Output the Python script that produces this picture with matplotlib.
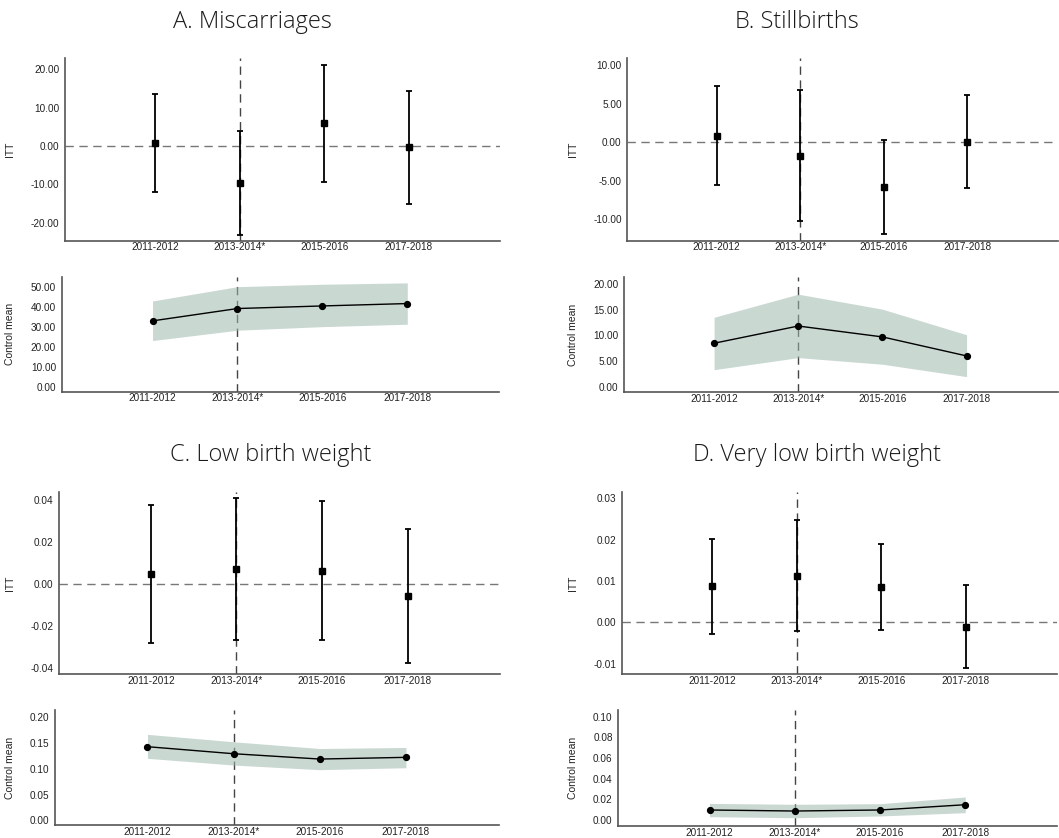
import numpy as np
import matplotlib.pyplot as plt
from matplotlib.ticker import FuncFormatter
from matplotlib.transforms import blended_transform_factory

plt.rcParams['font.family'] = ['Liberation Sans', 'DejaVu Sans']
plt.rcParams['axes.unicode_minus'] = False

periods = ['2011-2012', '2013-2014*', '2015-2016', '2017-2018']
titles = ['A. Miscarriages', 'B. Stillbirths', 'C. Low birth weight', 'D. Very low birth weight']

# ITT estimates with confidence limits
itt_misc = [0.7, -9.6, 5.9, -0.35]
itt_misc_lo = [-12.0, -23.1, -9.3, -15.1]
itt_misc_hi = [13.6, 4.0, 21.2, 14.4]

itt_still = [0.86, -1.74, -5.8, 0.0]
itt_still_lo = [-5.58, -10.3, -11.95, -6.0]
itt_still_hi = [7.27, 6.83, 0.34, 6.1]

itt_lbw = [0.0048, 0.0072, 0.0065, -0.0057]
itt_lbw_lo = [-0.028, -0.0267, -0.0266, -0.0374]
itt_lbw_hi = [0.0379, 0.041, 0.0396, 0.0263]

itt_vlbw = [0.0088, 0.0111, 0.0085, -0.0011]
itt_vlbw_lo = [-0.0028, -0.0021, -0.0018, -0.0111]
itt_vlbw_hi = [0.0203, 0.0247, 0.0189, 0.0090]

# control group means with band
ctrl_misc = [33.1, 39.3, 40.6, 41.8]
ctrl_misc_lo = [23.2, 28.4, 30.2, 31.4]
ctrl_misc_hi = [43.1, 50.3, 51.5, 52.2]

ctrl_still = [8.45, 11.8, 9.68, 5.98]
ctrl_still_lo = [3.3, 5.65, 4.36, 1.95]
ctrl_still_hi = [13.5, 18.0, 15.08, 10.1]

ctrl_lbw = [0.1425, 0.1289, 0.1186, 0.1219]
ctrl_lbw_lo = [0.120, 0.107, 0.098, 0.1018]
ctrl_lbw_hi = [0.1664, 0.152, 0.139, 0.141]

ctrl_vlbw = [0.0097, 0.0087, 0.0097, 0.0148]
ctrl_vlbw_lo = [0.0032, 0.0022, 0.0039, 0.0071]
ctrl_vlbw_hi = [0.0161, 0.0152, 0.0158, 0.0223]

itt_sets = [(itt_misc, itt_misc_lo, itt_misc_hi), (itt_still, itt_still_lo, itt_still_hi),
            (itt_lbw, itt_lbw_lo, itt_lbw_hi), (itt_vlbw, itt_vlbw_lo, itt_vlbw_hi)]
ctrl_sets = [(ctrl_misc, ctrl_misc_lo, ctrl_misc_hi), (ctrl_still, ctrl_still_lo, ctrl_still_hi),
             (ctrl_lbw, ctrl_lbw_lo, ctrl_lbw_hi), (ctrl_vlbw, ctrl_vlbw_lo, ctrl_vlbw_hi)]

itt_ticks = [np.arange(-20, 21, 10), np.arange(-10, 11, 5),
             np.arange(-0.04, 0.041, 0.02), np.arange(-0.01, 0.031, 0.01)]
ctrl_ticks = [np.arange(0, 51, 10), np.arange(0, 21, 5),
              np.arange(0, 0.21, 0.05), np.arange(0, 0.101, 0.02)]
itt_ylim = [(-24.7, 23), (-12.8, 10.9), (-0.0429, 0.0439), (-0.0126, 0.0315)]
ctrl_ylim = [(-2.5, 55.3), (-1.1, 21.4), (-0.009, 0.2135), (-0.0058, 0.1065)]

W, H = 1059, 838
# axes boxes in pixels: left, right, top, bottom
itt_box = [(65, 500, 58, 240.7), (627.3, 1057.7, 58.3, 240.7),
           (59.3, 500, 492.3, 674.3), (621.7, 1057.3, 492.3, 674.3)]
ctrl_box = [(61.7, 499, 276.7, 391.7), (624, 1057.5, 276.7, 392.3),
            (55.3, 499, 710, 825), (618.3, 1057.3, 710, 826)]
title_pos = [(252, 28), (797, 28), (271, 461), (817, 461)]
ylab_x = [15, 578, 15, 578]

fig = plt.figure(figsize=(W / 100, H / 100), dpi=100)
x = np.arange(1, 5)
fmt = FuncFormatter(lambda v, p: '%.2f' % v)


def px_axes(box):
    l, r, t, b = box
    return fig.add_axes([l / W, 1 - b / H, (r - l) / W, (b - t) / H])


def style(ax, ticks, ylim, label, lx):
    ax.set_xlim(-0.07, 5.08)
    ax.set_ylim(*ylim)
    ax.set_xticks(x)
    ax.set_xticklabels(periods)
    ax.set_yticks(ticks)
    ax.yaxis.set_major_formatter(fmt)
    ax.tick_params(length=0, labelsize=7.2, colors='#222222')
    ax.tick_params(axis='x', pad=1.2)
    ax.tick_params(axis='y', pad=4)
    for s in ['top', 'right']:
        ax.spines[s].set_visible(False)
    for s in ['left', 'bottom']:
        ax.spines[s].set_color('#555555')
        ax.spines[s].set_linewidth(1.2)
    ax.set_ylabel(label, fontsize=7.5, color='#222222')
    ax.yaxis.set_label_coords(lx / W, 0.5, transform=blended_transform_factory(fig.transFigure, ax.transAxes))


for i in range(4):
    est, lo, hi = itt_sets[i]
    est = np.array(est)
    ax = px_axes(itt_box[i])
    ax.axhline(0, color='#777777', ls=(0, (6, 4)), lw=1, zorder=1)
    ax.axvline(2, color='#444444', ls=(0, (6, 4)), lw=1, zorder=1)
    ax.errorbar(x, est, yerr=[est - np.array(lo), np.array(hi) - est], fmt='s', color='black',
                ms=4.3, elinewidth=1.3, capsize=2.5, capthick=1.3, zorder=3)
    style(ax, itt_ticks[i], itt_ylim[i], 'ITT', ylab_x[i])

    m, lo, hi = ctrl_sets[i]
    ax2 = px_axes(ctrl_box[i])
    ax2.axvline(2, color='#444444', ls=(0, (6, 4)), lw=1, zorder=1)
    ax2.fill_between(x, lo, hi, color='#9fb8ae', alpha=0.55, lw=0, zorder=2)
    ax2.plot(x, m, '-o', color='black', ms=4.2, lw=1, zorder=3)
    style(ax2, ctrl_ticks[i], ctrl_ylim[i], 'Control mean', ylab_x[i])

    tx, ty = title_pos[i]
    fig.text(tx / W, 1 - ty / H, titles[i], ha='center', va='baseline', fontsize=17,
             family=['Open Sans', 'DejaVu Sans'], fontweight='light', color='#1a1a1a')

fig.savefig('out.png', dpi=100)
